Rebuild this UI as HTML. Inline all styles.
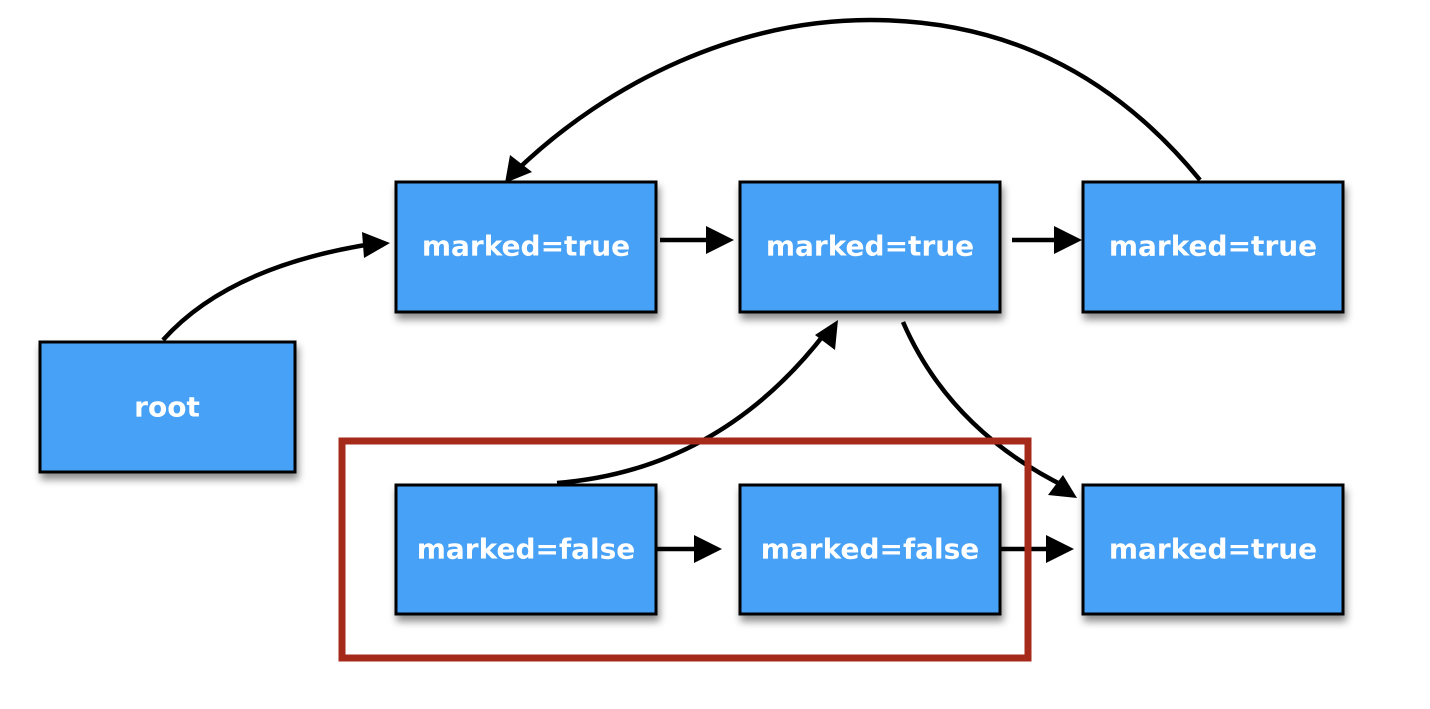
<!DOCTYPE html>
<html><head><style>
body{margin:0;background:#fff;}
svg text{font-family:"DejaVu Sans","Liberation Sans",sans-serif;font-weight:bold;font-size:28px;fill:#fff;text-anchor:middle;dominant-baseline:central;}
</style></head><body>
<svg width="1430" height="704" viewBox="0 0 1430 704" xmlns="http://www.w3.org/2000/svg">
<defs>
<filter id="sh" x="-10%" y="-10%" width="130%" height="140%"><feDropShadow dx="2" dy="6" stdDeviation="4" flood-color="#000" flood-opacity="0.45"/></filter>
</defs>
<g fill="none" stroke="#000" stroke-width="4.5">
<path d="M163,340 Q230,265 378,243"/>
<path d="M1200,180 C1110,70 1000,20 870,20 C740,20 610,80 515,172"/>
<path d="M557,483 Q720,470 826,332"/>
<path d="M903,322 Q950,430 1066,487"/>
<path d="M660,240 L720,240"/><path d="M1012,240 L1068,240"/>
<path d="M650,549 L708,549"/><path d="M1000,549 L1060,549"/>
</g>
<g fill="#000">
<path d="M362,232 L390,243 L364,258 z"/>
<path d="M505,183 L510,155 L532,172 z"/>
<path d="M838,320 L835,350 L815,335 z"/>
<path d="M1077,498 L1048,495 L1063,475 z"/>
<path d="M706,226 L734,240 L706,254 z"/>
<path d="M1054,226 L1082,240 L1054,254 z"/>
<path d="M694,535 L722,549 L694,563 z"/>
<path d="M1046,535 L1074,549 L1046,563 z"/>
</g>
<rect x="342" y="441" width="686" height="217" fill="none" stroke="#a52a1a" stroke-width="7"/>
<g fill="#46a2f7" stroke="#000" stroke-width="3" filter="url(#sh)">
<rect x="40" y="342" width="255" height="130"/>
<rect x="396" y="182" width="260" height="130"/>
<rect x="740" y="182" width="260" height="130"/>
<rect x="1083" y="182" width="260" height="130"/>
<rect x="396" y="485" width="260" height="129"/>
<rect x="740" y="485" width="260" height="129"/>
<rect x="1083" y="485" width="260" height="129"/>
</g>
<text x="167" y="407">root</text>
<text x="526" y="246">marked=true</text>
<text x="870" y="246">marked=true</text>
<text x="1213" y="246">marked=true</text>
<text x="526" y="549">marked=false</text>
<text x="870" y="549">marked=false</text>
<text x="1213" y="549">marked=true</text>
</svg>
</body></html>
